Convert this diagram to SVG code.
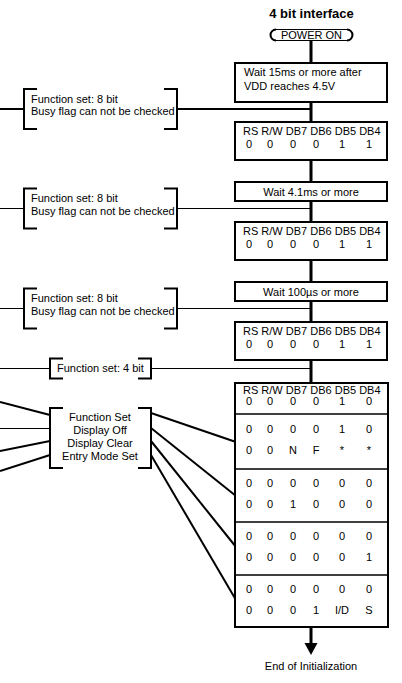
<svg xmlns="http://www.w3.org/2000/svg" width="402" height="683" viewBox="0 0 402 683">
<style>
text{font-family:"Liberation Sans",Arial,sans-serif;font-size:11px;fill:#000}
.t{font-size:13px;font-weight:bold}
.c{text-anchor:middle}
.box{fill:#fff;stroke:#000;stroke-width:2}
.br{fill:none;stroke:#000;stroke-width:2}
.main{stroke:#000;stroke-width:3;fill:none}
.med{stroke:#000;stroke-width:2;fill:none}
.thin{stroke:#000;stroke-width:1;fill:none}
.div{stroke:#000;stroke-width:1.5}
</style>
<rect width="402" height="683" fill="#fff"/>
<text class="t c" x="311.5" y="17.5">4 bit interface</text>

<g id="connectors">
  <path class="main" d="M311,40.5V63 M311,102V122 M311,160V182 M311,201V222 M311,260V282 M311,301V322 M311,360V383 M311,627V645"/>
  <polygon points="304.5,643 317.5,643 311,655" fill="#000"/>
  <path class="med" d="M0,109H24 M177,109H311"/>
  <path class="thin" d="M0,208.5H24 M177,208.5H311"/>
  <path class="thin" d="M0,308.5H24 M177,308.5H311"/>
  <path class="thin" d="M0,368.5H50 M151,368.5H311"/>
  <path class="med" d="M0,402L50,415"/>
  <path class="thin" d="M0,428.5H50"/>
  <path class="med" d="M0,451L50,441"/>
  <path class="med" d="M0,471L50,455"/>
  <path class="med" d="M151,413L236,442"/>
  <path class="med" d="M151,428L236,496"/>
  <path class="med" d="M151,441L236,547"/>
  <path class="med" d="M151,455L236,600"/>
</g>

<g id="power-on">
  <rect x="270.5" y="29.5" width="82" height="11" rx="5.5" fill="#fff" stroke="#000" stroke-width="1"/>
  <path class="med" d="M276,29.5A5.5,5.5 0 0 0 276,40.5 M347,29.5A5.5,5.5 0 0 1 347,40.5"/>
  <text class="c" x="311.5" y="39">POWER ON</text>
</g>

<g id="wait-15ms">
  <rect class="box" x="235" y="63" width="152" height="39"/>
  <text x="244" y="76">Wait 15ms or more after</text>
  <text x="244" y="90">VDD reaches 4.5V</text>
</g>

<g id="fs8-1">
  <rect class="box" x="235" y="122" width="152" height="38"/>
  <text x="243" y="135">RS R/W DB7 DB6 DB5 DB4</text>
  <g class="c"><text x="249" y="148">0</text><text x="270" y="148">0</text><text x="293" y="148">0</text><text x="316" y="148">0</text><text x="342" y="148">1</text><text x="369" y="148">1</text></g>
</g>

<g id="note-1">
  <path class="br" d="M37,89H24V129H37 M164,89H177V129H164"/>
  <text x="31" y="103">Function set: 8 bit</text>
  <text x="31" y="115">Busy flag can not be checked</text>
</g>

<g id="wait-4ms">
  <rect class="box" x="235" y="182" width="152" height="19"/>
  <text class="c" x="311" y="196">Wait 4.1ms or more</text>
</g>

<g id="note-2">
  <path class="br" d="M37,188.5H24V228.5H37 M164,188.5H177V228.5H164"/>
  <text x="31" y="202">Function set: 8 bit</text>
  <text x="31" y="215">Busy flag can not be checked</text>
</g>

<g id="fs8-2">
  <rect class="box" x="235" y="222" width="152" height="38"/>
  <text x="243" y="235">RS R/W DB7 DB6 DB5 DB4</text>
  <g class="c"><text x="249" y="248">0</text><text x="270" y="248">0</text><text x="293" y="248">0</text><text x="316" y="248">0</text><text x="342" y="248">1</text><text x="369" y="248">1</text></g>
</g>

<g id="wait-100us">
  <rect class="box" x="235" y="282" width="152" height="19"/>
  <text class="c" x="311" y="296">Wait 100µs or more</text>
</g>

<g id="note-3">
  <path class="br" d="M37,288.5H24V328.5H37 M164,288.5H177V328.5H164"/>
  <text x="31" y="302">Function set: 8 bit</text>
  <text x="31" y="315">Busy flag can not be checked</text>
</g>

<g id="fs8-3">
  <rect class="box" x="235" y="322" width="152" height="38"/>
  <text x="243" y="335">RS R/W DB7 DB6 DB5 DB4</text>
  <g class="c"><text x="249" y="348">0</text><text x="270" y="348">0</text><text x="293" y="348">0</text><text x="316" y="348">0</text><text x="342" y="348">1</text><text x="369" y="348">1</text></g>
</g>

<g id="note-4bit">
  <path class="br" d="M63,358.5H50V378.5H63 M138,358.5H151V378.5H138"/>
  <text x="57" y="372">Function set: 4 bit</text>
</g>

<g id="note-commands">
  <path class="br" d="M63,408H50V468H63 M138,408H151V468H138"/>
  <g class="c">
    <text x="100" y="421">Function Set</text>
    <text x="100" y="434">Display Off</text>
    <text x="100" y="447">Display Clear</text>
    <text x="100" y="460">Entry Mode Set</text>
  </g>
</g>

<g id="commands-table">
  <rect class="box" x="235" y="383" width="153" height="244"/>
  <path class="div" d="M235,414H388 M235,469H388 M235,522H388 M235,575H388"/>
  <text x="243" y="394">RS R/W DB7 DB6 DB5 DB4</text>
  <g class="c">
    <text x="249" y="405">0</text><text x="270" y="405">0</text><text x="293" y="405">0</text><text x="316" y="405">0</text><text x="342" y="405">1</text><text x="369" y="405">0</text>
    <text x="249" y="433">0</text><text x="270" y="433">0</text><text x="293" y="433">0</text><text x="316" y="433">0</text><text x="342" y="433">1</text><text x="369" y="433">0</text>
    <text x="249" y="454">0</text><text x="270" y="454">0</text><text x="293" y="454">N</text><text x="316" y="454">F</text><text x="342" y="454">*</text><text x="369" y="454">*</text>
    <text x="249" y="487">0</text><text x="270" y="487">0</text><text x="293" y="487">0</text><text x="316" y="487">0</text><text x="342" y="487">0</text><text x="369" y="487">0</text>
    <text x="249" y="508">0</text><text x="270" y="508">0</text><text x="293" y="508">1</text><text x="316" y="508">0</text><text x="342" y="508">0</text><text x="369" y="508">0</text>
    <text x="249" y="540">0</text><text x="270" y="540">0</text><text x="293" y="540">0</text><text x="316" y="540">0</text><text x="342" y="540">0</text><text x="369" y="540">0</text>
    <text x="249" y="561">0</text><text x="270" y="561">0</text><text x="293" y="561">0</text><text x="316" y="561">0</text><text x="342" y="561">0</text><text x="369" y="561">1</text>
    <text x="249" y="593">0</text><text x="270" y="593">0</text><text x="293" y="593">0</text><text x="316" y="593">0</text><text x="342" y="593">0</text><text x="369" y="593">0</text>
    <text x="249" y="614">0</text><text x="270" y="614">0</text><text x="293" y="614">0</text><text x="316" y="614">1</text><text x="342" y="614">I/D</text><text x="369" y="614">S</text>
  </g>
</g>

<g id="end">
  <text class="c" x="311" y="670">End of Initialization</text>
</g>
</svg>
